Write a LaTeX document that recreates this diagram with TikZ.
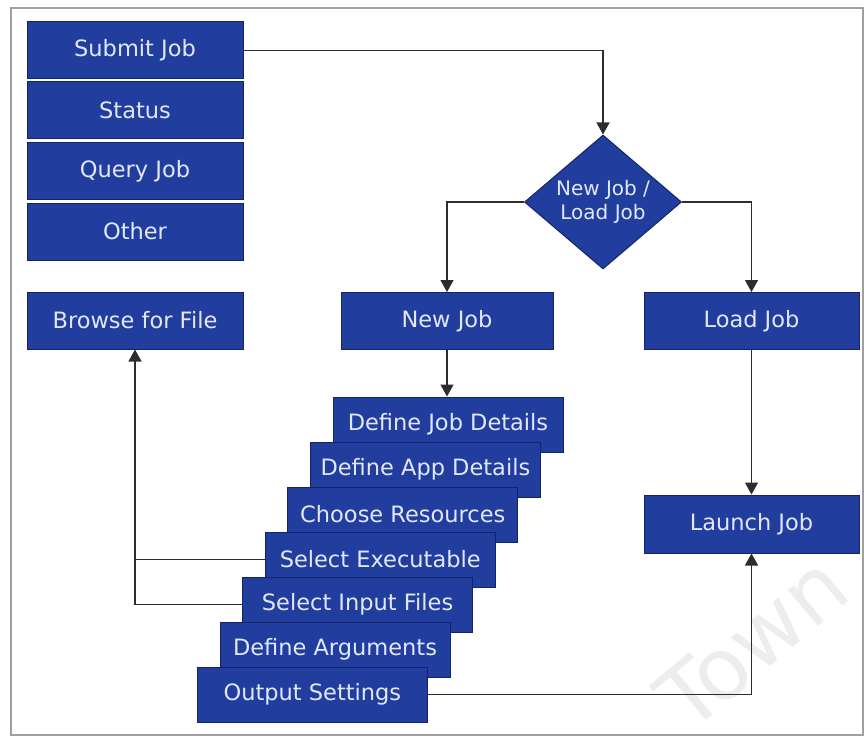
\documentclass[tikz,border=0pt]{standalone}
\usepackage{fontspec}
\setmainfont{DejaVu Sans}
\usetikzlibrary{shapes.geometric,arrows.meta}
\definecolor{boxblue}{RGB}{33,62,158}
\definecolor{boxedge}{RGB}{20,35,105}
\definecolor{boxtext}{RGB}{226,231,252}
\definecolor{linecol}{RGB}{45,45,45}
\definecolor{framecol}{RGB}{160,160,160}
\tikzset{
  box/.style={draw=boxedge, line width=1pt, fill=boxblue, text=boxtext,
    inner sep=0pt, minimum height=57pt, font=\fontsize{22.5}{26}\selectfont},
  stairbox/.style={box, minimum width=230pt, minimum height=55pt},
  decision/.style={diamond, draw=boxedge, line width=1pt, fill=boxblue, text=boxtext,
    inner sep=0pt, aspect=1.17, minimum width=157pt, minimum height=134pt,
    align=center, font=\fontsize{20}{24}\selectfont},
  conn/.style={draw=linecol, line width=1.3pt,
    -{Triangle[width=13pt,length=12pt]}},
  plainconn/.style={draw=linecol, line width=1.3pt}
}
\begin{document}
\begin{tikzpicture}[x=1pt,y=-1pt]
\useasboundingbox (0,0) rectangle (864,738);
\fill[white] (0,0) rectangle (864,738);
% watermark
\node[text=black!7, rotate=40, font=\fontsize{86}{86}\selectfont] (wm) at (752,642) {Town};
\draw[framecol, line width=2pt] (11,8) rectangle (863,735);

% top stack
\node[box, minimum width=216pt] (submit) at (135,50.5) {Submit Job};
\node[box, minimum width=216pt] (status) at (135,110) {Status};
\node[box, minimum width=216pt] (query) at (135,171) {Query Job};
\node[box, minimum width=216pt] (other) at (135,231.5) {Other};

\node[box, minimum width=216pt] (browse) at (135,320.5) {Browse for File};
\node[box, minimum width=212pt] (newjob) at (447,321) {New Job};
\node[box, minimum width=215pt] (loadjob) at (751.5,321) {Load Job};
\node[box, minimum width=215pt, minimum height=58pt] (launch) at (751.5,524) {Launch Job};

\node[decision] (diam) at (603,202) {New Job /\\Load Job};

% stairs
\node[stairbox] (djd) at (448,424.5) {Define Job Details};
\node[stairbox] (dad) at (425.4,469.5) {Define App Details};
\node[stairbox] (cr) at (402.8,514.5) {Choose Resources};
\node[stairbox] (se) at (380.2,559.5) {Select Executable};
\node[stairbox] (sif) at (357.6,604.5) {Select Input Files};
\node[stairbox] (da) at (335,649.5) {Define Arguments};
\node[stairbox] (os) at (312.4,694.5) {Output Settings};

% connectors
\draw[conn] (submit.east) -| (diam.north);
\draw[conn] (diam.west) -| (newjob.north);
\draw[conn] (diam.east) -| (loadjob.north);
\draw[conn] (newjob.south) -- (newjob.south |- djd.north);
\draw[conn] (loadjob.south) -- (launch.north);
\draw[conn] (os.east) -| (launch.south);
\draw[conn] (se.west) -| (browse.south);
\draw[plainconn] (sif.west) -| (browse.south |- se.west);
\end{tikzpicture}
\end{document}
